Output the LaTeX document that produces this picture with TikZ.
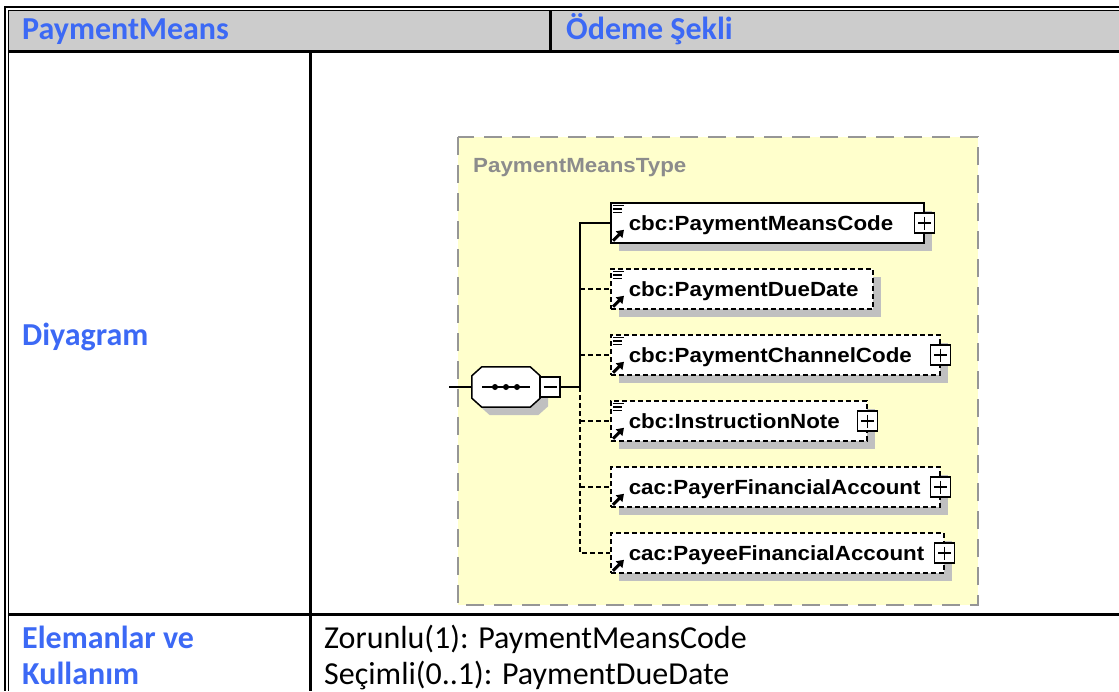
\documentclass[tikz,border=0pt]{standalone}
\usepackage{fontspec}
\setmainfont{Carlito}
\newfontfamily\xsdfont[FakeStretch=1.09]{Liberation Sans}
\usetikzlibrary{arrows.meta}
\definecolor{hdrblue}{RGB}{60,105,245}
\definecolor{hdrgray}{RGB}{204,204,204}
\definecolor{typebg}{RGB}{255,255,204}
\definecolor{typeline}{RGB}{150,150,150}
\definecolor{typetext}{RGB}{140,140,140}
\definecolor{shadowgray}{RGB}{192,192,192}

\begin{document}
\begin{tikzpicture}[x=1pt,y=-1pt,
	hdr/.style={anchor=base west,inner sep=0pt,text=hdrblue,font=\fontsize{32}{38}\bfseries\selectfont},
	body/.style={anchor=base west,inner sep=0pt,font=\fontsize{32}{38}\selectfont},
	shadowed/.style={preaction={draw=none,fill=shadowgray,transform canvas={xshift=8pt,yshift=-8pt}}},
	elem/.style={shadowed,draw,line width=1.5pt,fill=white,anchor=west,minimum height=40pt,inner xsep=18pt,inner ysep=0pt,text width=#1,align=left,text height=18pt,text depth=4pt,font=\xsdfont\fontsize{20.5}{23}\bfseries\selectfont},
	opt/.style={dash pattern=on 5pt off 3pt},
	expand/.style={draw,fill=white,line width=1.3pt,minimum size=20pt,inner sep=0pt,
		path picture={\draw[line width=1.3pt] ([xshift=3.5pt]path picture bounding box.west) -- ([xshift=-3.5pt]path picture bounding box.east)
			([yshift=-3.5pt]path picture bounding box.north) -- ([yshift=3.5pt]path picture bounding box.south);}},
	collapse/.style={draw,fill=white,line width=1.3pt,minimum size=20pt,inner sep=0pt,
		path picture={\draw[line width=1.3pt] ([xshift=3.5pt]path picture bounding box.west) -- ([xshift=-3.5pt]path picture bounding box.east);}}]
	\useasboundingbox (0,0) rectangle (1119,691);
	% table frame
	\fill[hdrgray] (9,10.5) rectangle (1119,50);
	\draw[line width=2pt] (1119,7) -- (5,7) -- (5,691);
	\draw[line width=1pt] (1119,10) -- (8.5,10) -- (8.5,691);
	\draw[line width=3pt] (8.5,51.5) -- (1119,51.5);
	\draw[line width=3pt] (550.5,10) -- (550.5,50);
	\draw[line width=3pt] (310,53) -- (310,691);
	\draw[line width=3pt] (8.5,614) -- (1119,614);
	\node[hdr] (hname) at (22,39) {PaymentMeans};
	\node[hdr] (hdesc) at (566,39) {Ödeme Şekli};
	\node[hdr] (diag) at (22,345) {Diyagram};
	\node[hdr] (usea) at (22,648) {Elemanlar ve};
	\node[hdr] (useb) at (22,684) {Kullanım};
	\node[body] (req) at (324,648) {Zorunlu(1): PaymentMeansCode};
	\node[body] (opt1) at (324,684) {Seçimli(0..1): PaymentDueDate};
	% schema diagram
	\draw[typeline,fill=typebg,line width=2pt,dash pattern=on 18pt off 10pt] (458,137) rectangle (978,605);
	\node[anchor=base west,inner sep=0pt,text=typetext,font=\xsdfont\fontsize{20.5}{23}\bfseries\selectfont] (ptype) at (473,172) {PaymentMeansType};
	\node[elem=277pt] (e1) at (610,223) {cbc:PaymentMeansCode};
	\node[elem=226pt,opt] (e2) at (610,289) {cbc:PaymentDueDate};
	\node[elem=293pt,opt] (e3) at (610,355) {cbc:PaymentChannelCode};
	\node[elem=220pt,opt] (e4) at (610,421) {cbc:InstructionNote};
	\node[elem=293pt,opt] (e5) at (610,487) {cac:PayerFinancialAccount};
	\node[elem=297pt,opt] (e6) at (610,553) {cac:PayeeFinancialAccount};
	\foreach \e in {e1,e3,e4,e5,e6}
		\node[expand] (\e x) at (\e.east) {};
	\foreach \e in {e1,e2,e3,e4}
		\draw[line width=1.5pt,shift={(\e.north west)}] (3,3) -- (14,3) (3,6.5) -- (12,6.5) (3,10) -- (12,10);
	\foreach \e in {e1,e2,e3,e4,e5,e6}
		\draw[line width=3pt,-{Triangle[length=7pt,width=9pt]},shift={(\e.south west)}] (3,-3) -- (14,-14);
	% sequence compositor
	\node[minimum width=68pt,minimum height=40pt,inner sep=0pt] (seq) at (506,387) {};
	\filldraw[shadowed,fill=white,line width=1.5pt] ([xshift=10pt]seq.north west) -- ([xshift=-10pt]seq.north east)
		-- ([yshift=-9pt]seq.north east) -- ([yshift=9pt]seq.south east) -- ([xshift=-10pt]seq.south east)
		-- ([xshift=10pt]seq.south west) -- ([yshift=9pt]seq.south west) -- ([yshift=-9pt]seq.north west) -- cycle;
	\draw[line width=1.5pt] ([xshift=-24pt]seq.center) -- ([xshift=24pt]seq.center);
	\foreach \d in {-11,0,11}
		\fill ([xshift=\d pt]seq.center) circle (3pt);
	\node[collapse] (seqx) at (550,387) {};
	\coordinate (src) at (449,387);
	\coordinate (fork) at (580,387);
	\draw[line width=1.3pt] (src) -- (seq.west);
	\draw[line width=1.3pt] (seqx) -- (fork);
	\draw[line width=1.3pt] (fork) -- (fork |- e1.west) -- (e1.west);
	\draw[line width=1.3pt,opt] (fork) -- (fork |- e6.west) -- (e6.west);
	\foreach \e in {e2,e3,e4,e5}
		\draw[line width=1.3pt,opt] (fork |- \e.west) -- (\e.west);
\end{tikzpicture}
\end{document}
